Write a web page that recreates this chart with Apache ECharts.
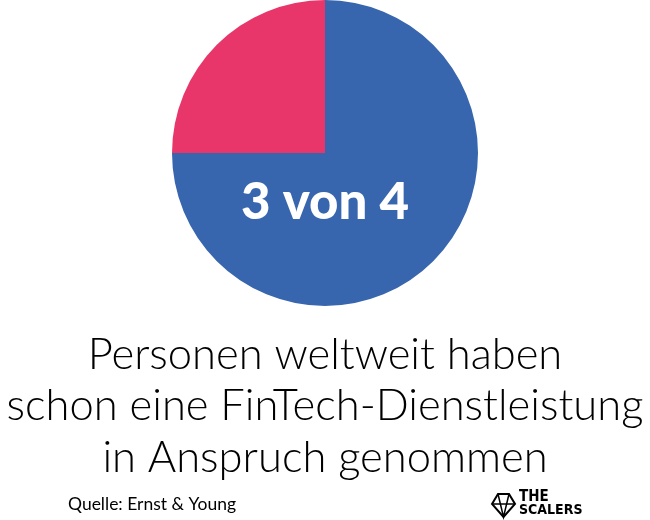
<!DOCTYPE html>
<html><head><meta charset="utf-8">
<script src="https://cdn.jsdelivr.net/npm/echarts@6/dist/echarts.min.js"></script>
<style>html,body{margin:0;padding:0;background:#fff}#c{width:650px;height:520px}</style>
</head><body><div id="c"></div>
<script>
const categories = ['Ja', 'Nein'];
const values = [75, 25];
const colors = ['#3765AE', '#E8366A'];
const centerLabel = '3 von 4';
const captionLines = ['Personen weltweit haben', 'schon eine FinTech-Dienstleistung', 'in Anspruch genommen'];
const sourceText = 'Quelle: Ernst & Young';

const chart = echarts.init(document.getElementById('c'));
chart.setOption({
  animation: false,
  backgroundColor: '#fff',
  series: [{
    type: 'pie',
    center: [325, 153],
    radius: [0, 153],
    startAngle: 90,
    clockwise: true,
    label: { show: false },
    labelLine: { show: false },
    itemStyle: { borderWidth: 0 },
    data: categories.map((c, i) => ({ name: c, value: values[i], itemStyle: { color: colors[i] } }))
  }],
  graphic: [
    { type: 'text', z: 100, left: 'center', top: 177, style: { text: centerLabel, fill: '#fff', font: '900 51px Lato, "Open Sans", sans-serif', textAlign: 'center' } },
    { type: 'text', z: 100, left: 'center', top: 329, style: { text: captionLines.join('\n'), fill: '#000', font: '300 43.5px Lato, "Open Sans", sans-serif', lineHeight: 51.5, textAlign: 'center' } },
    { type: 'text', z: 100, left: 68, top: 495, style: { text: sourceText, fill: '#000', font: '17.5px Lato, "Open Sans", sans-serif' } },
    { type: 'polygon', z: 100, shape: { points: [[492,504],[498,494],[509,494],[515,504],[503.5,517]] }, style: { fill: 'none', stroke: '#000', lineWidth: 2 } },
    { type: 'polyline', z: 100, shape: { points: [[492,504],[515,504]] }, style: { stroke: '#000', lineWidth: 1.5 } },
    { type: 'polyline', z: 100, shape: { points: [[498,494],[503.5,517],[509,494]] }, style: { stroke: '#000', lineWidth: 1.5, fill: 'none' } },
    { type: 'text', z: 100, left: 519, top: 490, style: { text: 'THE', fill: '#000', font: '900 15px "DejaVu Sans Condensed", "DejaVu Sans", sans-serif', lineHeight: 13 } },
    { type: 'text', z: 100, left: 519, top: 503, style: { text: 'SCALERS', fill: '#000', font: '900 14px "DejaVu Sans Condensed", "DejaVu Sans", sans-serif', lineHeight: 15 } }
  ]
});
</script></body></html>
